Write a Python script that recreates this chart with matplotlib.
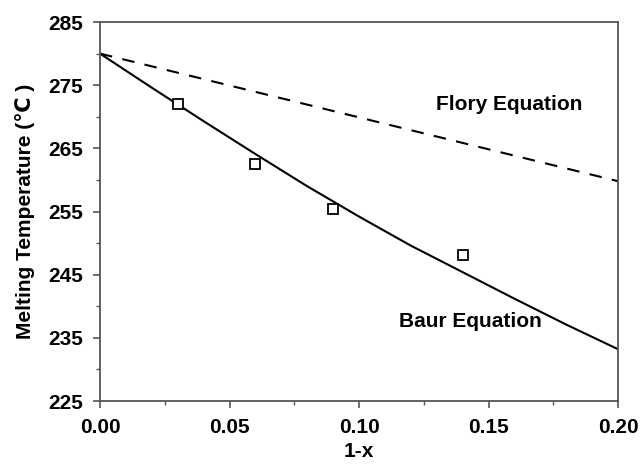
import matplotlib
matplotlib.use('Agg')
import matplotlib.pyplot as plt

plt.rcParams['font.family'] = ['Liberation Sans', 'DejaVu Sans']
plt.rcParams['font.weight'] = 'bold'

# measured points
x_exp = [0.03, 0.06, 0.09, 0.14]
t_exp = [272.0, 262.5, 255.4, 248.1]

# Baur equation curve
x_baur = [0.00, 0.02, 0.04, 0.06, 0.08, 0.10, 0.12, 0.14, 0.16, 0.18, 0.20]
t_baur = [280.0, 274.6, 269.3, 264.1, 259.0, 254.2, 249.6, 245.4, 241.2, 237.1, 233.2]

# Flory equation line
x_flory = [0.00, 0.20]
t_flory = [280.0, 259.8]

x_ticks = [0.00, 0.05, 0.10, 0.15, 0.20]
x_minor = [0.025, 0.075, 0.125, 0.175]
y_ticks = [225, 235, 245, 255, 265, 275, 285]
y_minor = [230, 240, 250, 260, 270, 280]

fig = plt.figure(figsize=(6.42, 4.65), dpi=100)
ax = fig.add_axes([100 / 642, 1 - 401 / 465, 518 / 642, 379 / 465])

ax.plot(x_baur, t_baur, 'k-', lw=1.5)
ax.plot(x_flory, t_flory, 'k--', lw=1.5, dashes=(6, 5))
ax.plot(x_exp, t_exp, 'ks', mfc='white', mec='k', ms=7, mew=1.3)

ax.text(0.158, 271.9, 'Flory Equation', fontsize=15, fontweight='bold',
        ha='center', va='center')
ax.text(0.143, 237.6, 'Baur Equation', fontsize=15, fontweight='bold',
        ha='center', va='center')

ax.set_xlim(0, 0.20)
ax.set_ylim(225, 285)
ax.set_xticks(x_ticks)
ax.set_xticks(x_minor, minor=True)
ax.set_xticklabels(['%.2f' % v for v in x_ticks])
ax.set_yticks(y_ticks)
ax.set_yticks(y_minor, minor=True)

for s in ax.spines.values():
    s.set_color('#555555')
    s.set_linewidth(1.3)
ax.tick_params(which='major', direction='out', length=5, width=1.2,
               color='#555555', labelsize=15)
ax.tick_params(axis='x', which='major', pad=7)
ax.tick_params(axis='y', which='major', pad=7)
ax.tick_params(which='minor', direction='out', length=3, width=1.0,
               color='#555555')
for lab in ax.get_xticklabels() + ax.get_yticklabels():
    lab.set_fontweight('bold')

ax.set_xlabel('1-x', fontsize=15, fontweight='bold', labelpad=4)
ax.set_ylabel('Melting Temperature (\u2103 )', fontsize=15, fontweight='bold',
              labelpad=10)

fig.savefig('out.png', dpi=100)
